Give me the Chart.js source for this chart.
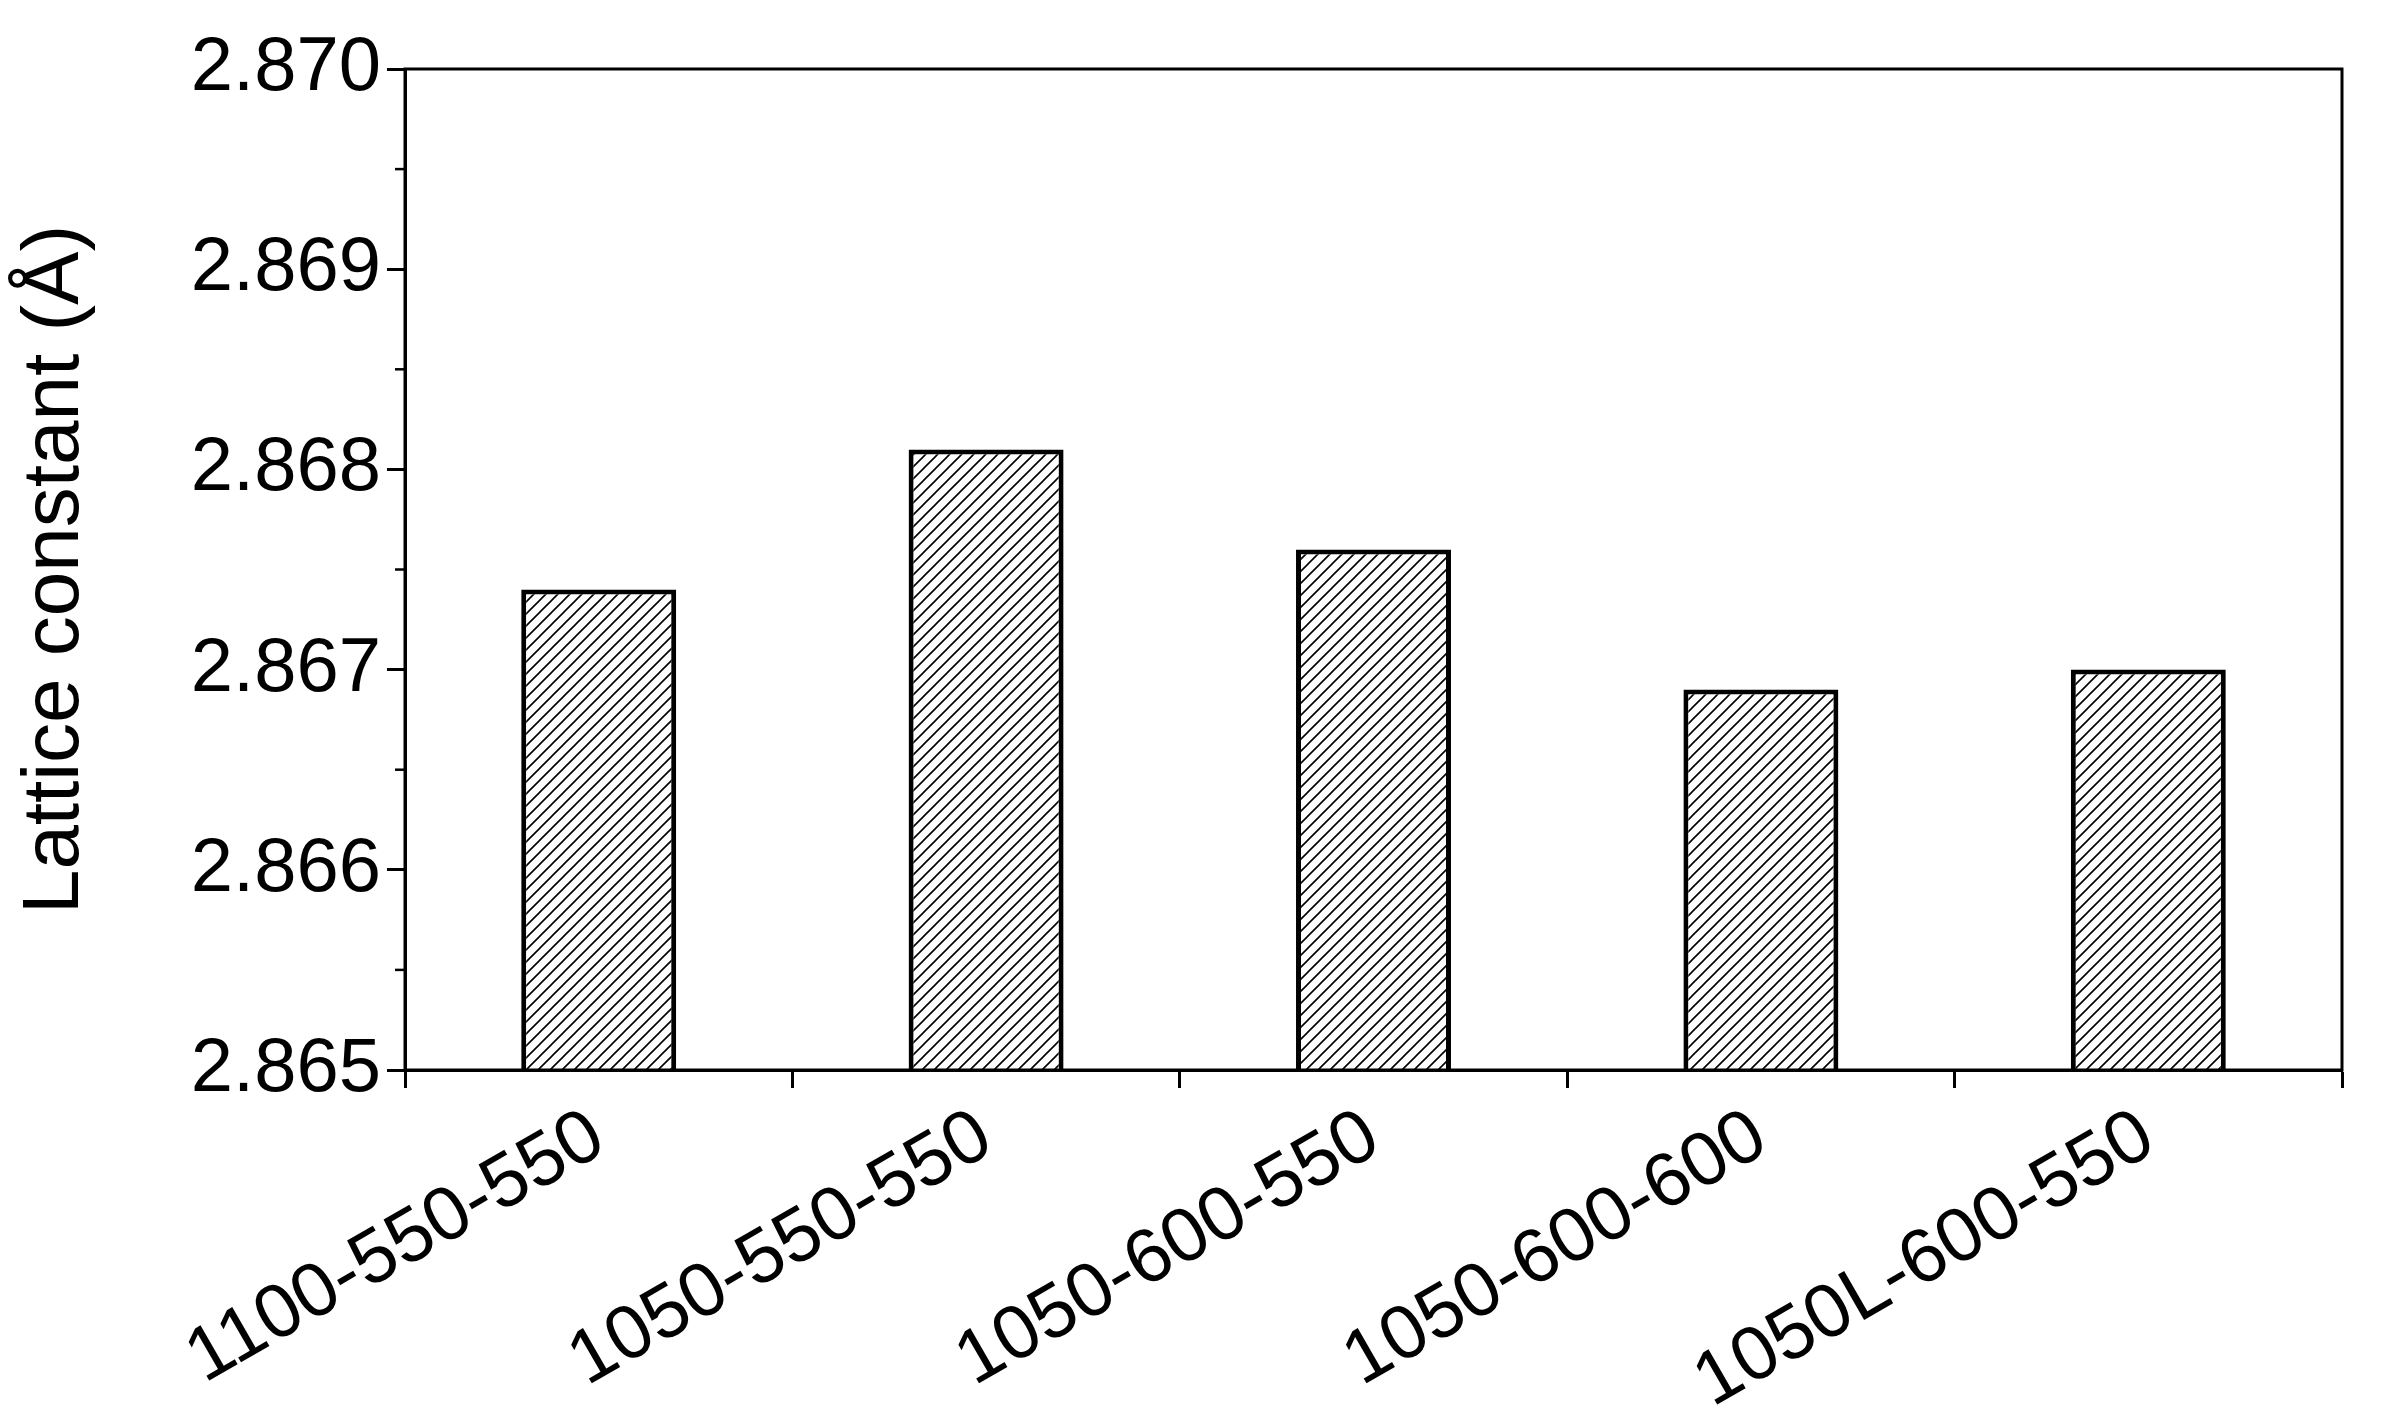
<!DOCTYPE html>
<html>
<head>
<meta charset="utf-8">
<script src="https://cdn.jsdelivr.net/npm/chart.js@4/dist/chart.umd.min.js"></script>
<style>
  html, body { margin: 0; padding: 0; background: #fff; }
  #wrap { width: 2384px; height: 1408px; }
</style>
</head>
<body>
<div id="wrap"><canvas id="c"></canvas></div>
<script>
// data
const categories = ['1100-550-550', '1050-550-550', '1050-600-550', '1050-600-600', '1050L-600-550'];
const latticeValues = [2.8674, 2.8681, 2.8676, 2.8669, 2.8670];
const yMin = 2.865, yMax = 2.870;

const FONT = '"Liberation Sans", Arial, sans-serif';

// hatch pattern ///
function makeHatch() {
  const s = 12;
  const p = document.createElement('canvas');
  p.width = s; p.height = s;
  const g = p.getContext('2d');
  g.fillStyle = '#fff';
  g.fillRect(0, 0, s, s);
  g.strokeStyle = '#000';
  g.lineWidth = 1.6;
  g.beginPath();
  g.moveTo(-2, s + 2); g.lineTo(s + 2, -2);
  g.moveTo(-2, 2); g.lineTo(2, -2);
  g.moveTo(s - 2, s + 2); g.lineTo(s + 2, s - 2);
  g.stroke();
  return document.getElementById('c').getContext('2d').createPattern(p, 'repeat');
}

// frame + minor ticks
const framePlugin = {
  id: 'frame',
  afterDraw(chart) {
    const { ctx, chartArea: a, scales } = chart;
    ctx.save();
    ctx.strokeStyle = '#000';
    ctx.lineWidth = 3;
    ctx.strokeRect(a.left, a.top, a.right - a.left, a.bottom - a.top);
    ctx.lineWidth = 2.5;
    for (let v = yMin + 0.0005; v < yMax; v += 0.001) {
      const y = scales.y.getPixelForValue(v);
      ctx.beginPath();
      ctx.moveTo(a.left - 10, y);
      ctx.lineTo(a.left, y);
      ctx.stroke();
    }
    ctx.restore();
  }
};

new Chart(document.getElementById('c'), {
  type: 'bar',
  data: {
    labels: categories,
    datasets: [{
      data: latticeValues,
      backgroundColor: makeHatch(),
      borderColor: '#000',
      borderWidth: 5,
      borderSkipped: false,
      barPercentage: 0.4,
      categoryPercentage: 1
    }]
  },
  options: {
    responsive: true,
    maintainAspectRatio: false,
    animation: false,
    layout: { padding: { top: 69, right: 42, left: 0, bottom: 0 } },
    plugins: { legend: { display: false }, tooltip: { enabled: false } },
    scales: {
      x: {
        grid: { display: true, drawOnChartArea: false, drawTicks: true, tickLength: 18, tickWidth: 3, tickColor: '#000' },
        border: { color: '#000', width: 3 },
        ticks: { color: '#000', font: { family: FONT, size: 76 }, minRotation: 30, maxRotation: 30, padding: 4 },
        afterFit(s) { s.height = 338; }
      },
      y: {
        min: yMin,
        max: yMax,
        grid: { display: true, drawOnChartArea: false, drawTicks: true, tickLength: 18, tickWidth: 3, tickColor: '#000' },
        border: { color: '#000', width: 3 },
        ticks: {
          stepSize: 0.001,
          color: '#000',
          font: { family: FONT, size: 76 },
          padding: 6,
          callback: v => v.toFixed(3)
        },
        title: { display: true, text: 'Lattice constant (Å)', color: '#000', font: { family: FONT, size: 80 }, padding: 8 },
        afterFit(s) { s.width = 405; }
      }
    }
  },
  plugins: [framePlugin]
});
</script>
</body>
</html>
